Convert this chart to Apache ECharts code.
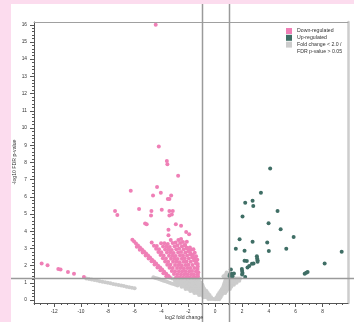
<!DOCTYPE html>
<html>
<head>
<meta charset="utf-8">
<script src="https://cdn.jsdelivr.net/npm/echarts@6/dist/echarts.min.js"></script>
<style>
  html, body { margin: 0; padding: 0; background: #fcdcee; }
  #card { position: absolute; left: 11px; top: 4px; right: 0; bottom: 0; background: #fff; }
  #chart { position: absolute; left: 0; top: 0; width: 354px; height: 322px; }
</style>
</head>
<body>
<div id="card"></div>
<div id="chart"></div>
<script>
// tick labels
const xTicks = [-12, -10, -8, -6, -4, -2, 0, 2, 4, 6, 8];
const yTicks = [0, 1, 2, 3, 4, 5, 6, 7, 8, 9, 10, 11, 12, 13, 14, 15, 16];

// thresholds: |log2 FC| = 1, FDR = 0.05
const fcThreshold = [-1, 1];
const fdrThreshold = 1.301;

const seriesNames = ['Down-regulated', 'Up-regulated', 'Fold change < 2.0 /\nFDR p-value > 0.05'];

// [log2 fold change, -log10 FDR]
const downPoints = [
  [-4.43, 16.0], [-4.2, 8.93], [-3.6, 8.08], [-3.56, 7.9], [-2.76, 7.23], [-6.29, 6.35], [-4.33, 6.57],
  [-4.05, 6.24], [-4.63, 6.08], [-3.28, 6.08], [-3.53, 5.87], [-3.41, 5.87],
  [-7.46, 5.17], [-7.29, 4.94], [-5.67, 5.29], [-4.75, 5.17], [-3.98, 5.25], [-3.41, 5.17], [-3.16, 5.17],
  [-4.78, 4.92], [-3.41, 4.92], [-3.23, 4.98], [-5.22, 4.45], [-5.1, 4.4], [-2.93, 4.4], [-2.54, 4.32],
  [-3.48, 4.09], [-2.16, 3.95], [-1.94, 3.82], [-3.48, 3.76], [-2.11, 3.39],
  [-12.93, 2.13], [-12.49, 2.02], [-11.69, 1.8], [-11.52, 1.78], [-10.97, 1.63], [-10.52, 1.53], [-9.78, 1.34],
  [-6.17, 3.50], [-6.04, 3.40], [-5.90, 3.29], [-5.75, 3.17], [-5.60, 3.06], [-5.45, 2.94], [-5.30, 2.82],
  [-5.15, 2.70], [-5.00, 2.59], [-4.85, 2.47], [-4.70, 2.35], [-4.55, 2.24], [-4.40, 2.12], [-4.25, 2.00],
  [-4.10, 1.89], [-3.95, 1.77], [-3.80, 1.65], [-3.65, 1.53], [-3.50, 1.42], [-3.38, 1.32],
  [-5.84, 3.10], [-5.62, 2.93], [-5.40, 2.76], [-5.18, 2.59], [-4.96, 2.42], [-4.74, 2.25], [-4.52, 2.07],
  [-4.30, 1.90], [-4.08, 1.73], [-3.86, 1.56], [-3.64, 1.39],
  [-4.73, 3.35], [-4.56, 3.16], [-4.40, 2.98], [-4.23, 2.80], [-4.07, 2.62], [-3.90, 2.43], [-3.73, 2.24],
  [-3.57, 2.06], [-3.40, 1.88], [-3.23, 1.69], [-3.07, 1.51], [-2.90, 1.32],
  [-4.35, 3.14], [-4.18, 2.96], [-4.01, 2.78], [-3.84, 2.59], [-3.67, 2.41], [-3.50, 2.23], [-3.33, 2.05],
  [-3.16, 1.87], [-2.99, 1.68], [-2.82, 1.50], [-2.65, 1.32],
  [-4.03, 3.30], [-3.88, 3.12], [-3.73, 2.94], [-3.59, 2.76], [-3.44, 2.58], [-3.29, 2.40], [-3.14, 2.22],
  [-2.99, 2.04], [-2.84, 1.86], [-2.70, 1.68], [-2.55, 1.50], [-2.40, 1.32],
  [-3.78, 3.30], [-3.63, 3.12], [-3.48, 2.94], [-3.34, 2.76], [-3.19, 2.58], [-3.04, 2.40], [-2.89, 2.22],
  [-2.74, 2.04], [-2.59, 1.86], [-2.45, 1.68], [-2.30, 1.50], [-2.15, 1.32],
  [-3.53, 3.26], [-3.38, 3.08], [-3.23, 2.91], [-3.09, 2.73], [-2.94, 2.56], [-2.79, 2.38], [-2.64, 2.20],
  [-2.49, 2.03], [-2.34, 1.85], [-2.20, 1.67], [-2.05, 1.50], [-1.90, 1.32],
  [-3.31, 3.49], [-3.17, 3.31], [-3.03, 3.13], [-2.90, 2.95], [-2.76, 2.77], [-2.62, 2.59], [-2.48, 2.40],
  [-2.34, 2.22], [-2.20, 2.04], [-2.07, 1.86], [-1.93, 1.68], [-1.79, 1.50], [-1.65, 1.32],
  [-2.95, 3.35], [-2.81, 3.17], [-2.68, 2.98], [-2.54, 2.80], [-2.40, 2.61], [-2.27, 2.43], [-2.13, 2.24],
  [-1.99, 2.06], [-1.86, 1.87], [-1.72, 1.69], [-1.58, 1.50], [-1.45, 1.32],
  [-2.74, 3.49], [-2.61, 3.31], [-2.48, 3.13], [-2.35, 2.95], [-2.22, 2.77], [-2.09, 2.59], [-1.96, 2.41],
  [-1.82, 2.22], [-1.69, 2.04], [-1.56, 1.86], [-1.43, 1.68], [-1.30, 1.50],
  [-2.54, 3.55], [-2.40, 3.37], [-2.26, 3.19], [-2.12, 3.01], [-1.99, 2.84], [-1.85, 2.66], [-1.71, 2.48],
  [-1.57, 2.30], [-1.43, 2.12], [-1.30, 1.95],
  [-2.24, 3.20], [-2.10, 3.04], [-1.97, 2.88], [-1.83, 2.72], [-1.70, 2.57], [-1.57, 2.41], [-1.43, 2.25], [-1.30, 2.10],
  [-1.28, 1.38], [-1.26, 1.62], [-1.31, 1.80], [-1.33, 2.35], [-1.42, 2.55], [-1.52, 2.75], [-1.66, 2.62],
  [-1.78, 2.92], [-1.88, 3.05], [-1.62, 2.95]
];

const upPoints = [
  [4.10, 7.64], [3.41, 6.24], [2.24, 5.66], [2.79, 5.77], [2.84, 5.47], [2.04, 4.86], [4.65, 5.17],
  [3.98, 4.46], [4.88, 4.11], [5.85, 3.66], [1.82, 3.53], [2.79, 3.39], [3.88, 3.35], [1.54, 2.98],
  [2.19, 2.87], [4.0, 2.85], [5.3, 2.98], [9.43, 2.81], [8.16, 2.13], [6.67, 1.53], [6.79, 1.59],
  [6.89, 1.63], [2.19, 2.28], [2.36, 2.27], [2.74, 2.11], [2.86, 2.13], [2.41, 1.9], [2.54, 1.98],
  [3.11, 2.54], [3.13, 2.42], [3.16, 2.31], [3.16, 2.23], [1.99, 1.8], [2.01, 1.69], [2.04, 1.57],
  [2.01, 1.49], [1.17, 1.78], [1.1, 1.49], [1.24, 1.53], [1.40, 1.55], [1.07, 1.40], [1.29, 1.38], [2.24, 1.34]
];

const nsPoints = [
  [-9.6, 1.26], [-9.4, 1.23], [-9.2, 1.20], [-9.0, 1.17], [-8.8, 1.14], [-8.6, 1.10], [-8.4, 1.07],
  [-8.2, 1.04], [-8.0, 1.01], [-7.8, 0.98], [-7.6, 0.94], [-7.4, 0.91], [-7.2, 0.88], [-7.0, 0.85],
  [-6.8, 0.82], [-6.6, 0.78], [-6.4, 0.75], [-6.2, 0.72], [-6.0, 0.69],
  [-4.6, 1.33], [-4.45, 1.29], [-4.3, 1.25], [-4.15, 1.21], [-4.0, 1.17], [-3.85, 1.13], [-3.7, 1.09],
  [-3.55, 1.05], [-3.4, 1.01], [-3.25, 0.97], [-3.1, 0.93], [-2.95, 0.89], [-2.8, 0.85],
  [-3.2, 1.25], [-3.0, 1.25], [-2.8, 1.25], [-2.6, 1.25], [-2.4, 1.25], [-2.2, 1.25], [-2.0, 1.25],
  [-1.8, 1.25], [-1.6, 1.25], [-1.4, 1.25], [-1.2, 1.25],
  [-3.0, 1.13], [-2.8, 1.13], [-2.6, 1.13], [-2.4, 1.13], [-2.2, 1.13], [-2.0, 1.13], [-1.8, 1.13],
  [-1.6, 1.13], [-1.4, 1.13], [-1.2, 1.13],
  [-2.9, 1.01], [-2.7, 1.01], [-2.5, 1.01], [-2.3, 1.01], [-2.1, 1.01], [-1.9, 1.01], [-1.7, 1.01],
  [-1.5, 1.01], [-1.3, 1.01], [-1.05, 1.01],
  [-2.75, 0.89], [-2.55, 0.89], [-2.35, 0.89], [-2.15, 0.89], [-1.95, 0.89], [-1.75, 0.89], [-1.55, 0.89],
  [-1.35, 0.89], [-1.15, 0.89], [-0.95, 0.89],
  [-2.5, 0.77], [-2.3, 0.77], [-2.1, 0.77], [-1.9, 0.77], [-1.7, 0.77], [-1.5, 0.77], [-1.3, 0.77],
  [-1.1, 0.77], [-0.9, 0.77],
  [-2.2, 0.65], [-2.0, 0.65], [-1.8, 0.65], [-1.6, 0.65], [-1.4, 0.65], [-1.2, 0.65], [-1.0, 0.65], [-0.8, 0.65],
  [-1.85, 0.53], [-1.65, 0.53], [-1.45, 0.53], [-1.25, 0.53], [-1.05, 0.53], [-0.85, 0.53], [-0.65, 0.53],
  [-1.55, 0.41], [-1.35, 0.41], [-1.15, 0.41], [-0.95, 0.41], [-0.75, 0.41], [-0.55, 0.41],
  [-1.2, 0.29], [-1.0, 0.29], [-0.8, 0.29], [-0.6, 0.29], [-0.42, 0.29],
  [-0.85, 0.17], [-0.65, 0.17], [-0.45, 0.17], [-0.3, 0.17],
  [-0.5, 0.06], [-0.32, 0.06], [-0.15, 0.06],
  [0.0, 0.05], [0.15, 0.05], [0.3, 0.05],
  [0.1, 0.17], [0.25, 0.17], [0.4, 0.17],
  [0.2, 0.29], [0.35, 0.29], [0.5, 0.29],
  [0.3, 0.41], [0.45, 0.41], [0.6, 0.41], [0.75, 0.41],
  [0.4, 0.53], [0.55, 0.53], [0.7, 0.53], [0.85, 0.53],
  [0.5, 0.65], [0.65, 0.65], [0.8, 0.65], [0.95, 0.65], [1.1, 0.65],
  [0.6, 0.77], [0.75, 0.77], [0.9, 0.77], [1.05, 0.77], [1.2, 0.77],
  [0.65, 0.89], [0.8, 0.89], [0.95, 0.89], [1.1, 0.89], [1.25, 0.89], [1.4, 0.89],
  [0.7, 1.01], [0.85, 1.01], [1.0, 1.01], [1.15, 1.01], [1.3, 1.01], [1.45, 1.01], [1.6, 1.01],
  [0.75, 1.13], [0.9, 1.13], [1.05, 1.13], [1.2, 1.13], [1.35, 1.13], [1.5, 1.13], [1.65, 1.13], [1.8, 1.13],
  [0.8, 1.25], [0.95, 1.25], [1.1, 1.25], [1.25, 1.25], [1.4, 1.25], [1.55, 1.25], [1.7, 1.25], [1.85, 1.25],
  [0.75, 1.45], [0.85, 1.6], [0.95, 1.5], [0.9, 1.38], [0.62, 1.38]
];

const xMinor = [];
for (let v = -13.5; v <= 9.9; v += 0.5) if (!xTicks.includes(v)) xMinor.push(v);
const yMinor = [];
for (let i = 0; i <= 80; i++) if (i % 5) yMinor.push(i / 5);

const font = 'Liberation Sans, Arial, sans-serif';
const axisColor = '#555';
const xRange = { min: -13.5, max: 9.9 };
const yRange = { min: -0.17, max: 16.16 };

const chart = echarts.init(document.getElementById('chart'));

const option = {
  animation: false,
  grid: { left: 34, right: 6, top: 22, bottom: 19 },
  legend: {
    orient: 'vertical', left: 286, top: 28, padding: 0,
    itemWidth: 6, itemHeight: 6, itemGap: 0.8, icon: 'rect',
    data: seriesNames,
    formatter: name => name.split('\n')[0],
    textStyle: { fontSize: 5.2, lineHeight: 6, color: '#333', fontFamily: font }
  },
  xAxis: [
    {
      type: 'value', ...xRange, position: 'bottom',
      axisLine: { onZero: false, lineStyle: { color: axisColor, width: 1 } },
      axisTick: { customValues: xTicks, length: 4, lineStyle: { color: axisColor } },
      axisLabel: { customValues: xTicks, fontSize: 4.8, color: '#333', margin: 6, fontFamily: font },
      splitLine: { show: false }
    },
    {
      type: 'value', ...xRange, position: 'bottom',
      axisLine: { show: false, onZero: false },
      axisTick: { customValues: xMinor, length: 2, lineStyle: { color: axisColor } },
      axisLabel: { show: false }, splitLine: { show: false }
    },
    {
      type: 'value', ...xRange, position: 'top',
      axisLine: { onZero: false, lineStyle: { color: '#a0a0a0', width: 1 } },
      axisTick: { show: false }, axisLabel: { show: false }, splitLine: { show: false }
    }
  ],
  yAxis: [
    {
      type: 'value', ...yRange, position: 'left',
      axisLine: { onZero: false, lineStyle: { color: axisColor, width: 1 } },
      axisTick: { customValues: yTicks, length: 4, lineStyle: { color: axisColor } },
      axisLabel: { customValues: yTicks, fontSize: 4.8, color: '#333', margin: 7, fontFamily: font },
      splitLine: { show: false }
    },
    {
      type: 'value', ...yRange, position: 'left',
      axisLine: { show: false, onZero: false },
      axisTick: { customValues: yMinor, length: 2, lineStyle: { color: axisColor } },
      axisLabel: { show: false }, splitLine: { show: false }
    },
    {
      type: 'value', ...yRange, position: 'right',
      axisLine: { onZero: false, lineStyle: { color: '#cdcdcd', width: 2.5 } },
      axisTick: { show: false }, axisLabel: { show: false }, splitLine: { show: false }
    }
  ],
  series: [
    { name: seriesNames[2], type: 'scatter', data: nsPoints, symbolSize: 4, itemStyle: { color: '#cccccc', opacity: 1 } },
    { name: seriesNames[0], type: 'scatter', data: downPoints, symbolSize: 4, itemStyle: { color: '#ef7fb6', opacity: 1 } },
    { name: seriesNames[1], type: 'scatter', data: upPoints, symbolSize: 4, itemStyle: { color: '#3f6e65', opacity: 1 } }
  ]
};

chart.setOption(option);

// threshold lines run across the whole white card
const lineStyle = { stroke: '#9a9a9a', lineWidth: 1.5 };
const graphics = fcThreshold.map(v => {
  const px = Math.round(chart.convertToPixel({ xAxisIndex: 0 }, v)) + 0.5;
  return { type: 'line', z: 100, silent: true, shape: { x1: px, y1: 4, x2: px, y2: 322 }, style: lineStyle };
});
const py = Math.round(chart.convertToPixel({ yAxisIndex: 0 }, fdrThreshold)) + 0.5;
graphics.push({ type: 'line', z: 100, silent: true, shape: { x1: 11, y1: py, x2: 354, y2: py }, style: lineStyle });

graphics.push(
  { type: 'text', z: 100, x: 297, y: 51.5,
    style: { text: 'FDR p-value > 0.05', fontSize: 5.2, fill: '#333', fontFamily: font, verticalAlign: 'middle' } },
  { type: 'text', z: 100, x: 184, y: 318,
    style: { text: 'log2 fold change', fontSize: 5.2, fill: '#333', fontFamily: font, align: 'center', verticalAlign: 'middle' } },
  { type: 'text', z: 100, x: 15, y: 162, rotation: Math.PI / 2,
    style: { text: '-log10 FDR p-value', fontSize: 5.2, fill: '#333', fontFamily: font, align: 'center', verticalAlign: 'middle' } }
);

chart.setOption({ graphic: graphics });
</script>
</body>
</html>
